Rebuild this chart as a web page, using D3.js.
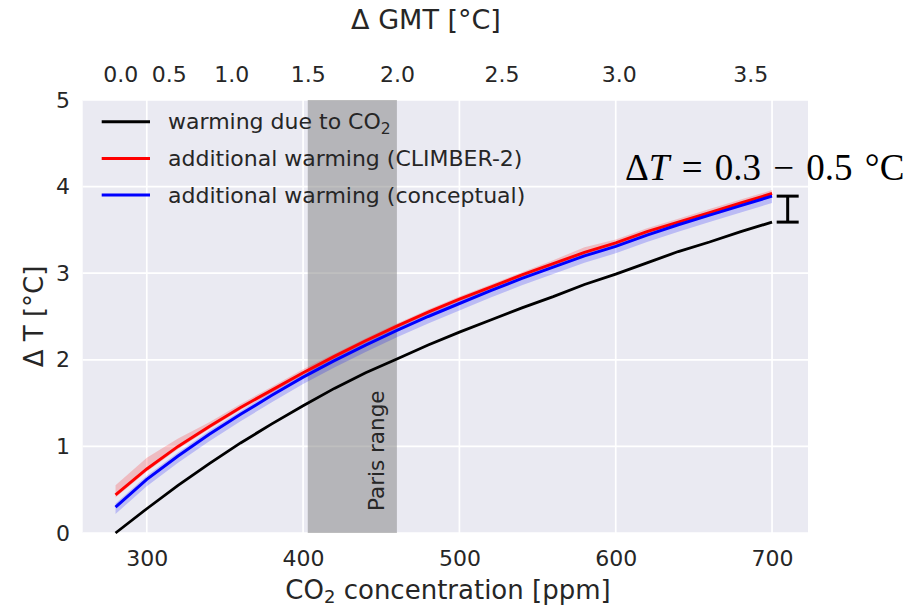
<!DOCTYPE html>
<html lang="en">
<head>
  <meta charset="UTF-8">
  <title>Warming vs CO2</title>
  <script src="https://d3js.org/d3.v7.min.js"></script>
  <style>
    body { margin: 0; background: #fff; }
    text { font-family: "DejaVu Sans", sans-serif; fill: #262626; }
  </style>
</head>
<body>
  <div id="chart"></div>

  <script>
    // CO2 concentration [ppm]
    const ppm = [280, 300, 320, 340, 360, 380, 400, 420, 440, 460, 480, 500, 520, 540, 560, 580, 600, 620, 640, 660, 680, 700];
    // warming due to CO2
    const co2Warming = [0.00, 0.28, 0.55, 0.80, 1.04, 1.26, 1.47, 1.67, 1.85, 2.01, 2.17, 2.32, 2.46, 2.60, 2.73, 2.87, 2.99, 3.12, 3.25, 3.36, 3.48, 3.59];
    // additional warming (CLIMBER-2)
    const climber = [0.44, 0.74, 1.00, 1.23, 1.45, 1.65, 1.85, 2.04, 2.22, 2.39, 2.55, 2.70, 2.84, 2.98, 3.11, 3.24, 3.35, 3.48, 3.59, 3.70, 3.81, 3.92];
    const climberHigh = [0.55, 0.87, 1.09, 1.28, 1.49, 1.69, 1.89, 2.07, 2.25, 2.42, 2.58, 2.73, 2.87, 3.01, 3.15, 3.30, 3.39, 3.52, 3.63, 3.74, 3.85, 3.96];
    const climberLow = [0.41, 0.71, 0.97, 1.20, 1.42, 1.62, 1.82, 2.01, 2.19, 2.36, 2.52, 2.67, 2.81, 2.95, 3.08, 3.21, 3.32, 3.45, 3.56, 3.67, 3.78, 3.89];
    // additional warming (conceptual)
    const conceptual = [0.30, 0.62, 0.89, 1.14, 1.37, 1.59, 1.80, 1.99, 2.17, 2.34, 2.50, 2.65, 2.80, 2.94, 3.07, 3.20, 3.31, 3.44, 3.56, 3.67, 3.78, 3.89];
    const conceptualHigh = [0.34, 0.66, 0.93, 1.18, 1.41, 1.63, 1.84, 2.03, 2.21, 2.38, 2.54, 2.69, 2.84, 2.98, 3.11, 3.24, 3.35, 3.48, 3.60, 3.71, 3.82, 3.93];
    const conceptualLow = [0.22, 0.54, 0.81, 1.06, 1.29, 1.51, 1.72, 1.91, 2.09, 2.26, 2.42, 2.57, 2.72, 2.86, 2.99, 3.12, 3.23, 3.36, 3.48, 3.59, 3.70, 3.81];

    const xTicks = [300, 400, 500, 600, 700];
    const yTicks = [0, 1, 2, 3, 4, 5];
    const gmtLabels = ["0.0", "0.5", "1.0", "1.5", "2.0", "2.5", "3.0", "3.5"];
    const gmtTickPpm = [283, 314, 354, 403, 460, 527, 602, 686];
    const parisRange = [403, 460];
    // spread of additional warming at 700 ppm
    const spreadAt = 710, spreadLow = 3.59, spreadHigh = 3.89;

    const W = 910, H = 607;
    const plot = { left: 82.7, right: 808, top: 100, bottom: 533 };

    const svg = d3.select("#chart").append("svg").attr("width", W).attr("height", H);

    const x = d3.scaleLinear().domain([259, 723]).range([plot.left, plot.right]);
    const y = d3.scaleLinear().domain([0, 5]).range([plot.bottom, plot.top]);

    svg.append("rect")
      .attr("x", plot.left).attr("y", plot.top)
      .attr("width", plot.right - plot.left).attr("height", plot.bottom - plot.top)
      .attr("fill", "#eaeaf2");

    // grid
    svg.append("g").selectAll("line").data(yTicks).join("line")
      .attr("x1", plot.left).attr("x2", plot.right)
      .attr("y1", d => y(d)).attr("y2", d => y(d))
      .attr("stroke", "#fff").attr("stroke-width", 1.7);
    svg.append("g").selectAll("line").data(xTicks).join("line")
      .attr("y1", plot.top).attr("y2", plot.bottom)
      .attr("x1", d => x(d)).attr("x2", d => x(d))
      .attr("stroke", "#fff").attr("stroke-width", 1.7);

    // Paris range
    svg.append("rect")
      .attr("x", x(parisRange[0])).attr("width", x(parisRange[1]) - x(parisRange[0]))
      .attr("y", plot.top).attr("height", plot.bottom - plot.top)
      .attr("fill", "gray").attr("fill-opacity", 0.5);
    svg.append("text")
      .attr("transform", `translate(${x(452)},${y(0.95)}) rotate(-90)`)
      .attr("text-anchor", "middle")
      .attr("font-size", 21.5)
      .text("Paris range");

    const idx = d3.range(ppm.length);
    const area = (lo, hi) => d3.area().x(i => x(ppm[i])).y0(i => y(lo[i])).y1(i => y(hi[i]))(idx);
    const line = vals => d3.line().x(i => x(ppm[i])).y(i => y(vals[i]))(idx);

    svg.append("path").attr("d", area(climberLow, climberHigh)).attr("fill", "red").attr("fill-opacity", 0.2);
    svg.append("path").attr("d", area(conceptualLow, conceptualHigh)).attr("fill", "blue").attr("fill-opacity", 0.2);

    svg.append("path").attr("d", line(co2Warming)).attr("fill", "none").attr("stroke", "black").attr("stroke-width", 2.8);
    svg.append("path").attr("d", line(climber)).attr("fill", "none").attr("stroke", "red").attr("stroke-width", 3);
    svg.append("path").attr("d", line(conceptual)).attr("fill", "none").attr("stroke", "blue").attr("stroke-width", 3);

    // error bar marking the spread
    const eb = svg.append("g").attr("stroke", "black").attr("stroke-width", 3);
    eb.append("line").attr("x1", x(spreadAt)).attr("x2", x(spreadAt)).attr("y1", y(spreadLow)).attr("y2", y(spreadHigh));
    [spreadLow, spreadHigh].forEach(v => {
      eb.append("line").attr("x1", x(spreadAt) - 11).attr("x2", x(spreadAt) + 11).attr("y1", y(v)).attr("y2", y(v));
    });

    const ann = svg.append("text")
      .attr("x", 625).attr("y", 180)
      .style("font-family", "'Liberation Serif', 'DejaVu Serif', serif")
      .style("font-size", "37px")
      .style("word-spacing", "3px")
      .style("fill", "#000");
    ann.append("tspan").text("Δ");
    ann.append("tspan").style("font-style", "italic").text("T");
    ann.append("tspan").text(" = 0.3 − 0.5 °C");

    // axes
    const styleAxis = g => {
      g.select(".domain").remove();
      g.selectAll("text").attr("font-size", 22);
    };
    svg.append("g").attr("transform", `translate(0,${plot.bottom})`)
      .call(d3.axisBottom(x).tickValues(xTicks).tickSize(0).tickPadding(17))
      .call(styleAxis);
    svg.append("g").attr("transform", `translate(${plot.left},0)`)
      .call(d3.axisLeft(y).tickValues(yTicks).tickFormat(d3.format("d")).tickSize(0).tickPadding(12.7))
      .call(styleAxis);
    svg.append("g").attr("transform", `translate(0,${plot.top})`)
      .call(d3.axisTop(x).tickValues(gmtTickPpm).tickFormat((d, i) => gmtLabels[i]).tickSize(0).tickPadding(18.3))
      .call(styleAxis);

    // axis labels
    const xl = svg.append("text").attr("x", 448).attr("y", 599).attr("text-anchor", "middle").attr("font-size", 26);
    xl.append("tspan").text("CO");
    xl.append("tspan").attr("font-size", 18).attr("dy", 4).text("2");
    xl.append("tspan").attr("dy", -4).text(" concentration [ppm]");

    svg.append("text")
      .attr("transform", `translate(43,${(plot.top + plot.bottom) / 2}) rotate(-90)`)
      .attr("text-anchor", "middle").attr("font-size", 26)
      .text("Δ T [°C]");

    svg.append("text").attr("x", 426).attr("y", 29).attr("text-anchor", "middle").attr("font-size", 27)
      .text("Δ GMT [°C]");

    // legend
    const legendItems = [
      { color: "black", label: ["warming due to CO", "2"] },
      { color: "red", label: ["additional warming (CLIMBER-2)"] },
      { color: "blue", label: ["additional warming (conceptual)"] }
    ];
    const lg = svg.append("g");
    legendItems.forEach((it, i) => {
      const ly = 121.7 + i * 36.7;
      lg.append("line").attr("x1", 101.7).attr("x2", 150).attr("y1", ly).attr("y2", ly)
        .attr("stroke", it.color).attr("stroke-width", 3);
      const t = lg.append("text").attr("x", 168).attr("y", ly).attr("dy", "0.35em").attr("font-size", 22);
      t.append("tspan").text(it.label[0]);
      if (it.label[1]) {
        t.append("tspan").attr("font-size", 15.5).attr("dy", 5).text(it.label[1]);
      }
    });
  </script>
</body>
</html>
